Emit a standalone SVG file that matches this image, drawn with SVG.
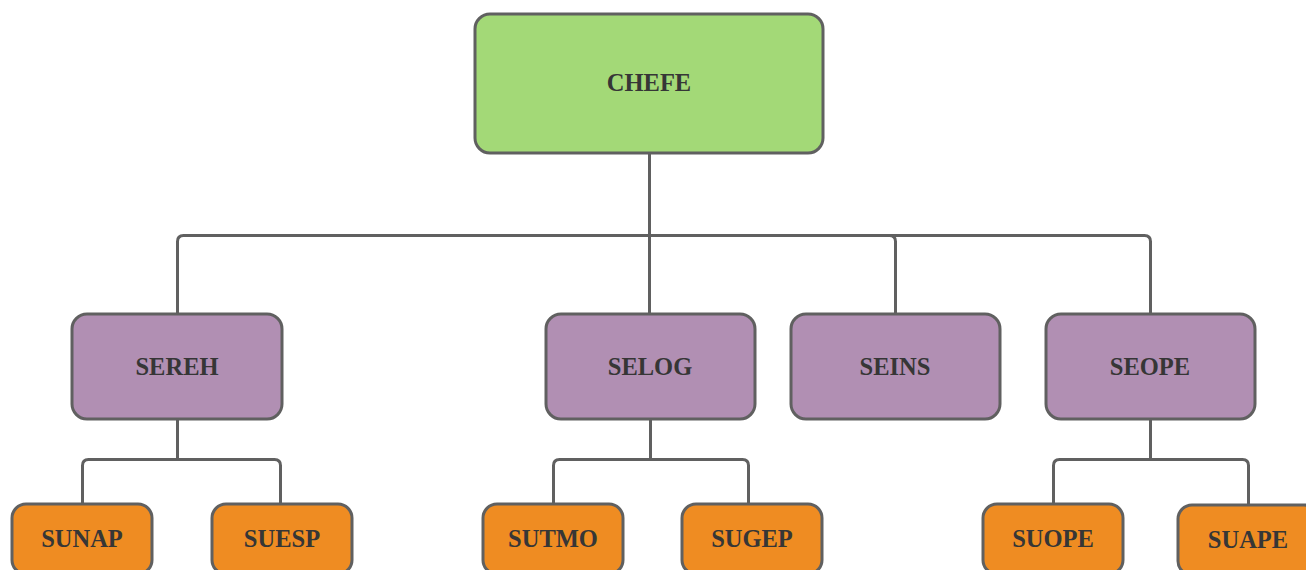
<svg xmlns="http://www.w3.org/2000/svg" width="1306" height="570" viewBox="0 0 1306 570">
<style>
.box{stroke:#606060;stroke-width:3}
.root{fill:#a3d977}
.mid{fill:#b18fb3}
.leaf{fill:#ef8c22}
.lbl{font-family:"Liberation Serif","Times New Roman",serif;font-weight:bold;font-size:24.5px;fill:#363636;text-anchor:middle;dominant-baseline:central}
.conn path{fill:none;stroke:#606060;stroke-width:3;stroke-linejoin:round}
</style>
<rect width="1306" height="570" fill="#ffffff"/>
<g id="connectors" class="conn">
<path d="M649.5,153 V235.5 H183.5 Q177.5,235.5 177.5,241.5 V314"/>
<path d="M649.5,153 V314"/>
<path d="M649.5,153 V235.5 H889.5 Q895.5,235.5 895.5,241.5 V314"/>
<path d="M649.5,153 V235.5 H1144.5 Q1150.5,235.5 1150.5,241.5 V314"/>
<path d="M177.5,419 V459.5 H88.5 Q82.5,459.5 82.5,465.5 V504"/>
<path d="M177.5,419 V459.5 H274.5 Q280.5,459.5 280.5,465.5 V504"/>
<path d="M650.5,419 V459.5 H559.5 Q553.5,459.5 553.5,465.5 V504"/>
<path d="M650.5,419 V459.5 H742.5 Q748.5,459.5 748.5,465.5 V504"/>
<path d="M1150.5,419 V459.5 H1059.5 Q1053.5,459.5 1053.5,465.5 V504"/>
<path d="M1150.5,419 V459.5 H1242.5 Q1248.5,459.5 1248.5,465.5 V504"/>
</g>
<g id="CHEFE"><rect class="box root" x="475" y="14" width="348" height="139" rx="15"/><text class="lbl" x="649" y="82">CHEFE</text></g>
<g id="SEREH"><rect class="box mid" x="72" y="314" width="210" height="105" rx="15"/><text class="lbl" x="177" y="366">SEREH</text></g>
<g id="SELOG"><rect class="box mid" x="546" y="314" width="209" height="105" rx="15"/><text class="lbl" x="650" y="366">SELOG</text></g>
<g id="SEINS"><rect class="box mid" x="791" y="314" width="209" height="105" rx="15"/><text class="lbl" x="895" y="366">SEINS</text></g>
<g id="SEOPE"><rect class="box mid" x="1046" y="314" width="209" height="105" rx="15"/><text class="lbl" x="1150" y="366">SEOPE</text></g>
<g id="SUNAP"><rect class="box leaf" x="12" y="504" width="140" height="70" rx="14"/><text class="lbl" x="82" y="538">SUNAP</text></g>
<g id="SUESP"><rect class="box leaf" x="212" y="504" width="140" height="70" rx="14"/><text class="lbl" x="282" y="538">SUESP</text></g>
<g id="SUTMO"><rect class="box leaf" x="483" y="504" width="140" height="70" rx="14"/><text class="lbl" x="553" y="538">SUTMO</text></g>
<g id="SUGEP"><rect class="box leaf" x="682" y="504" width="140" height="70" rx="14"/><text class="lbl" x="752" y="538">SUGEP</text></g>
<g id="SUOPE"><rect class="box leaf" x="983" y="504" width="140" height="70" rx="14"/><text class="lbl" x="1053" y="538">SUOPE</text></g>
<g id="SUAPE"><rect class="box leaf" x="1178" y="505" width="140" height="70" rx="14"/><text class="lbl" x="1248" y="539">SUAPE</text></g>
</svg>
